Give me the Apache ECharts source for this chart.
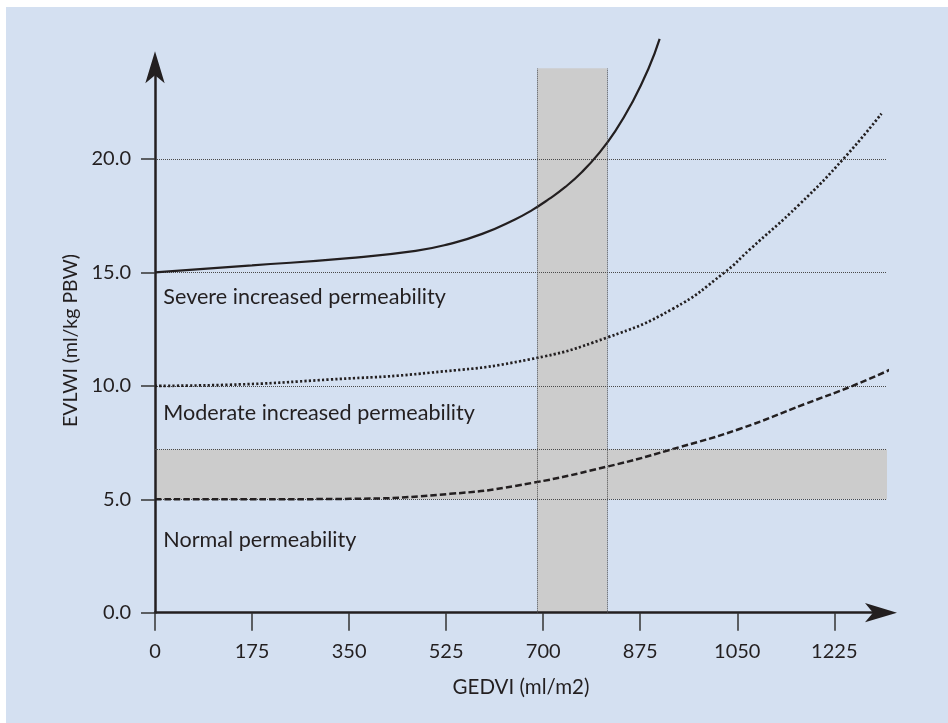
<!DOCTYPE html>
<html>
<head>
<meta charset="utf-8">
<script src="https://cdn.jsdelivr.net/npm/echarts@6/dist/echarts.min.js"></script>
<style>
  html, body { margin: 0; padding: 0; background: #ffffff; }
  #chart { position: absolute; left: 6px; top: 7px; width: 942px; height: 716px; background: #d4e0f1; }
</style>
</head>
<body>
<div id="chart"></div>
<script>
// ---- data ----
const xTicks = [0, 175, 350, 525, 700, 875, 1050, 1225];
const yTicks = [0, 5, 10, 15, 20];

const severeX = [0, 175, 350, 470, 530, 590, 650, 680, 710, 740, 770, 800, 830, 860, 890, 910];
const severeY = [15.0, 15.31, 15.63, 15.95, 16.25, 16.7, 17.35, 17.75, 18.23, 18.77, 19.43, 20.24, 21.23, 22.47, 23.99, 25.3];

const moderateX = [0, 135, 315, 496, 676, 814, 934, 1027, 1072, 1162, 1243, 1310];
const moderateY = [10.0, 10.05, 10.28, 10.58, 11.17, 12.12, 13.4, 15.0, 16.0, 18.0, 20.05, 22.0];

const normalX = [0, 171, 352, 532, 652, 817, 946, 1054, 1174, 1258, 1329];
const normalY = [5.0, 5.0, 5.02, 5.24, 5.6, 6.45, 7.3, 8.1, 9.22, 10.0, 10.75];

const vBand = [690, 815];      // GEDVI range shaded
const hBand = [5, 7.2];        // EVLWI range shaded

const regionNames = ['Severe increased permeability', 'Moderate increased permeability', 'Normal permeability'];
const regionX = [15, 15, 15];
const regionY = [13.9, 8.8, 3.2];

const xMax = 1320, yMax = 24;

// ---- build ----
const zip = (a, b) => a.map((v, i) => [v, b[i]]);
const ink = '#231f20';
const font = 'Lato';

const chart = echarts.init(document.getElementById('chart'), null, { renderer: 'canvas' });

chart.setOption({
  backgroundColor: '#d4e0f1',
  animation: false,
  textStyle: { fontFamily: font },
  grid: { left: 149, right: 61, top: 61.3, bottom: 110.3, containLabel: false },
  xAxis: {
    type: 'value', min: 0, max: xMax, interval: 175,
    name: 'GEDVI (ml/m2)', nameLocation: 'middle', nameGap: 64,
    nameTextStyle: { fontSize: 20.5, color: ink, fontFamily: font },
    axisLine: { show: true, onZero: false, lineStyle: { color: ink, width: 2.5 },
      symbol: ['none', 'arrow'], symbolSize: [14.5, 32], symbolOffset: [0, 10] },
    axisTick: { show: true, length: 18, lineStyle: { color: '#333', width: 1.5 }, customValues: xTicks },
    axisLabel: { show: true, margin: 29, fontSize: 20, color: ink, fontFamily: font,
      customValues: xTicks, formatter: v => String(v) },
    splitLine: { show: false }
  },
  yAxis: {
    type: 'value', min: 0, max: yMax, interval: 5,
    name: 'EVLWI (ml/kg PBW)', nameLocation: 'middle', nameGap: 73, nameRotate: 90,
    nameTextStyle: { fontSize: 19.5, color: ink, fontFamily: font },
    axisLine: { show: true, onZero: false, lineStyle: { color: ink, width: 2.5 },
      symbol: ['none', 'arrow'], symbolSize: [14.5, 32], symbolOffset: [0, 17] },
    axisTick: { show: true, length: 14, lineStyle: { color: '#333', width: 1.5 }, customValues: yTicks },
    axisLabel: { show: true, margin: 24, fontSize: 20, color: ink, fontFamily: font,
      customValues: yTicks, formatter: v => v.toFixed(1) },
    splitLine: { show: true, showMinLine: false, showMaxLine: true,
      lineStyle: { color: '#4a4a4a', width: 1, type: [1, 1] } }
  },
  series: [
    {
      name: 'bands', type: 'line', data: [], silent: true, z: -1,
      markArea: {
        silent: true, z: -1,
        itemStyle: { color: '#cccccc' },
        data: [
          [{ xAxis: vBand[0], yAxis: 0 }, { xAxis: vBand[1], yAxis: yMax }],
          [{ xAxis: 0, yAxis: hBand[0] }, { xAxis: xMax, yAxis: hBand[1] }]
        ]
      },
      markLine: {
        silent: true, symbol: ['none', 'none'], label: { show: false },
        lineStyle: { color: '#4a4a4a', width: 1, type: [1, 1] },
        data: [
          { xAxis: vBand[0] }, { xAxis: vBand[1] }, { yAxis: hBand[1] }
        ]
      }
    },
    {
      name: 'labels', type: 'scatter', data: [], silent: true,
      markPoint: {
        silent: true, symbol: 'circle', symbolSize: 0,
        label: { show: true, position: 'right', distance: 0, formatter: '{b}',
          fontSize: 21.6, color: ink, fontFamily: font },
        data: regionNames.map((n, i) => ({ name: n, coord: [regionX[i], regionY[i]] }))
      }
    },
    {
      name: 'severe', type: 'line', data: zip(severeX, severeY), smooth: 0.5,
      symbol: 'none', clip: false, lineStyle: { color: ink, width: 2.2, type: 'solid' }
    },
    {
      name: 'moderate', type: 'line', data: zip(moderateX, moderateY), smooth: 0.5,
      symbol: 'none', clip: false, lineStyle: { color: ink, width: 2.7, type: [2.2, 2.2] }
    },
    {
      name: 'normal', type: 'line', data: zip(normalX, normalY), smooth: 0.5,
      symbol: 'none', clip: false, lineStyle: { color: ink, width: 2.5, type: [6.5, 3] }
    }
  ]
});
</script>
</body>
</html>
